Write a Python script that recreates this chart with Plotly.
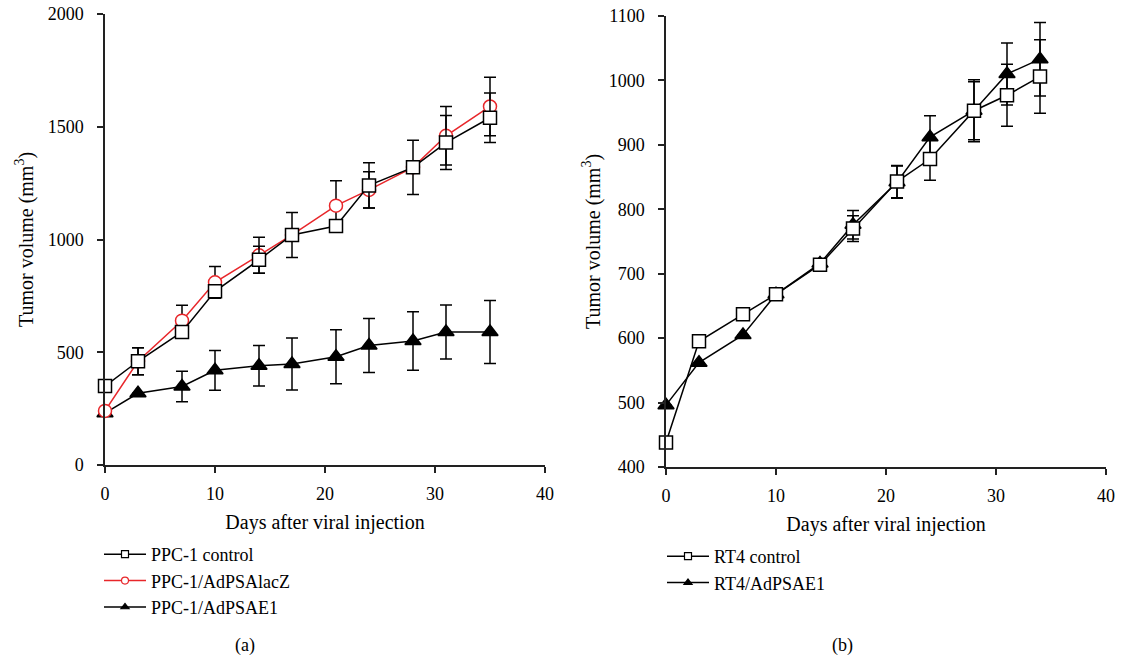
import plotly.graph_objects as go

# ---- data (a) ----
days_a = [0, 3, 7, 10, 14, 17, 21, 24, 28, 31, 35]
ctrl_a = [350, 460, 590, 770, 910, 1020, 1060, 1240, 1320, 1430, 1540]
ctrl_a_err = [0, 60, 0, 0, 60, 100, 0, 100, 120, 120, 110]
lacz_a = [240, 460, 640, 810, 930, 1020, 1150, 1220, 1320, 1460, 1590]
lacz_a_err = [0, 60, 68, 70, 80, 0, 110, 80, 0, 130, 130]
e1_a = [230, 318, 348, 420, 440, 448, 480, 530, 550, 590, 590]
e1_a_err = [0, 0, 68, 88, 90, 115, 120, 120, 130, 120, 140]

# ---- data (b) ----
days_b = [0, 3, 7, 10, 14, 17, 21, 24, 28, 31, 34]
ctrl_b = [438, 595, 637, 668, 714, 770, 843, 878, 953, 977, 1006]
ctrl_b_err = [0, 0, 0, 0, 0, 20, 25, 33, 48, 48, 57]
e1_b = [496, 562, 605, 668, 716, 776, 842, 912, 953, 1010, 1033]
e1_b_err = [0, 0, 0, 0, 5, 22, 25, 33, 45, 48, 57]

FONT = "Liberation Serif"
W, H = 1121, 659

def px(v):
    return v / W

def py(v):
    return 1 - v / H

fig = go.Figure()

def err(vals):
    return dict(type="data", array=vals, visible=True, color="black",
                thickness=1.5, width=6)

def add(x, y, e, xa, ya, symbol, color, fill, size):
    fig.add_trace(go.Scatter(
        x=x, y=y, xaxis=xa, yaxis=ya, mode="lines+markers",
        line=dict(color=color, width=1.5),
        marker=dict(symbol=symbol, size=size, color=fill,
                    line=dict(color=color, width=1.5)),
        error_y=err(e), cliponaxis=False, showlegend=False))

# panel a: draw order triangles, red circles, squares
add(days_a, e1_a, e1_a_err, "x", "y", "triangle-up", "black", "black", 14)
add(days_a, lacz_a, lacz_a_err, "x", "y", "circle", "#e8262a", "white", 13)
add(days_a, ctrl_a, ctrl_a_err, "x", "y", "square", "black", "white", 13)
# panel b
add(days_b, e1_b, e1_b_err, "x2", "y2", "triangle-up", "black", "black", 14)
add(days_b, ctrl_b, ctrl_b_err, "x2", "y2", "square", "black", "white", 13)

# legend entries
def leg(name, symbol, color, fill, legend):
    fig.add_trace(go.Scatter(
        x=[None], y=[None], mode="lines+markers", name=name, legend=legend,
        line=dict(color=color, width=1.5),
        marker=dict(symbol=symbol, size=7, color=fill,
                    line=dict(color=color, width=1.2))))

leg("PPC-1 control", "square", "black", "white", "legend")
leg("PPC-1/AdPSAlacZ", "circle", "#e8262a", "white", "legend")
leg("PPC-1/AdPSAE1", "triangle-up", "black", "black", "legend")
leg("RT4 control", "square", "black", "white", "legend2")
leg("RT4/AdPSAE1", "triangle-up", "black", "black", "legend2")

axis_common = dict(showline=True, linecolor="#222", linewidth=1.5,
                   ticks="outside", ticklen=6, tickwidth=1.5, tickcolor="#222",
                   showgrid=False, zeroline=False, automargin=False,
                   ticklabeloverflow="allow",
                   tickfont=dict(family=FONT, size=18, color="black"))
title_font = dict(family=FONT, size=20, color="black")

fig.update_layout(
    width=W, height=H,
    margin=dict(l=0, r=0, t=0, b=0, autoexpand=False),
    paper_bgcolor="white", plot_bgcolor="white",
    font=dict(family=FONT, size=18, color="black"),
    xaxis=dict(domain=[px(105), px(545)], range=[0, 40], dtick=10, anchor="y",
               ticklabelstandoff=6,
               title=dict(text="Days after viral injection", standoff=12, font=title_font),
               **axis_common),
    yaxis=dict(domain=[py(465), py(14)], range=[0, 2000], dtick=500, anchor="x",
               ticklabelstandoff=10,
               title=dict(text="Tumor volume (mm<sup>3</sup>)", standoff=9, font=title_font),
               **axis_common),
    xaxis2=dict(domain=[px(666), px(1106)], range=[0, 40], dtick=10, anchor="y2",
                ticklabelstandoff=6,
                title=dict(text="Days after viral injection", standoff=12, font=title_font),
                **axis_common),
    yaxis2=dict(domain=[py(467), py(16)], range=[400, 1100], dtick=100, anchor="x2",
                ticklabelstandoff=10,
                title=dict(text="Tumor volume (mm<sup>3</sup>)", standoff=3, font=title_font),
                **axis_common),
    legend=dict(x=px(99), y=py(536), xanchor="left", yanchor="top",
                font=dict(family=FONT, size=18), tracegroupgap=0, itemwidth=42,
                bgcolor="rgba(0,0,0,0)"),
    legend2=dict(x=px(662), y=py(538), xanchor="left", yanchor="top",
                 font=dict(family=FONT, size=18), tracegroupgap=0, itemwidth=42,
                 bgcolor="rgba(0,0,0,0)"),
    annotations=[
        dict(text="(a)", x=px(245), y=py(645), xref="paper", yref="paper",
             xanchor="center", yanchor="middle",
             showarrow=False, font=dict(family=FONT, size=18)),
        dict(text="(b)", x=px(843), y=py(645), xref="paper", yref="paper",
             xanchor="center", yanchor="middle",
             showarrow=False, font=dict(family=FONT, size=18)),
    ],
)

fig.write_html("out.html", config={"displayModeBar": False},
               post_script="document.body.style.margin='0px';document.body.style.overflow='hidden';")
